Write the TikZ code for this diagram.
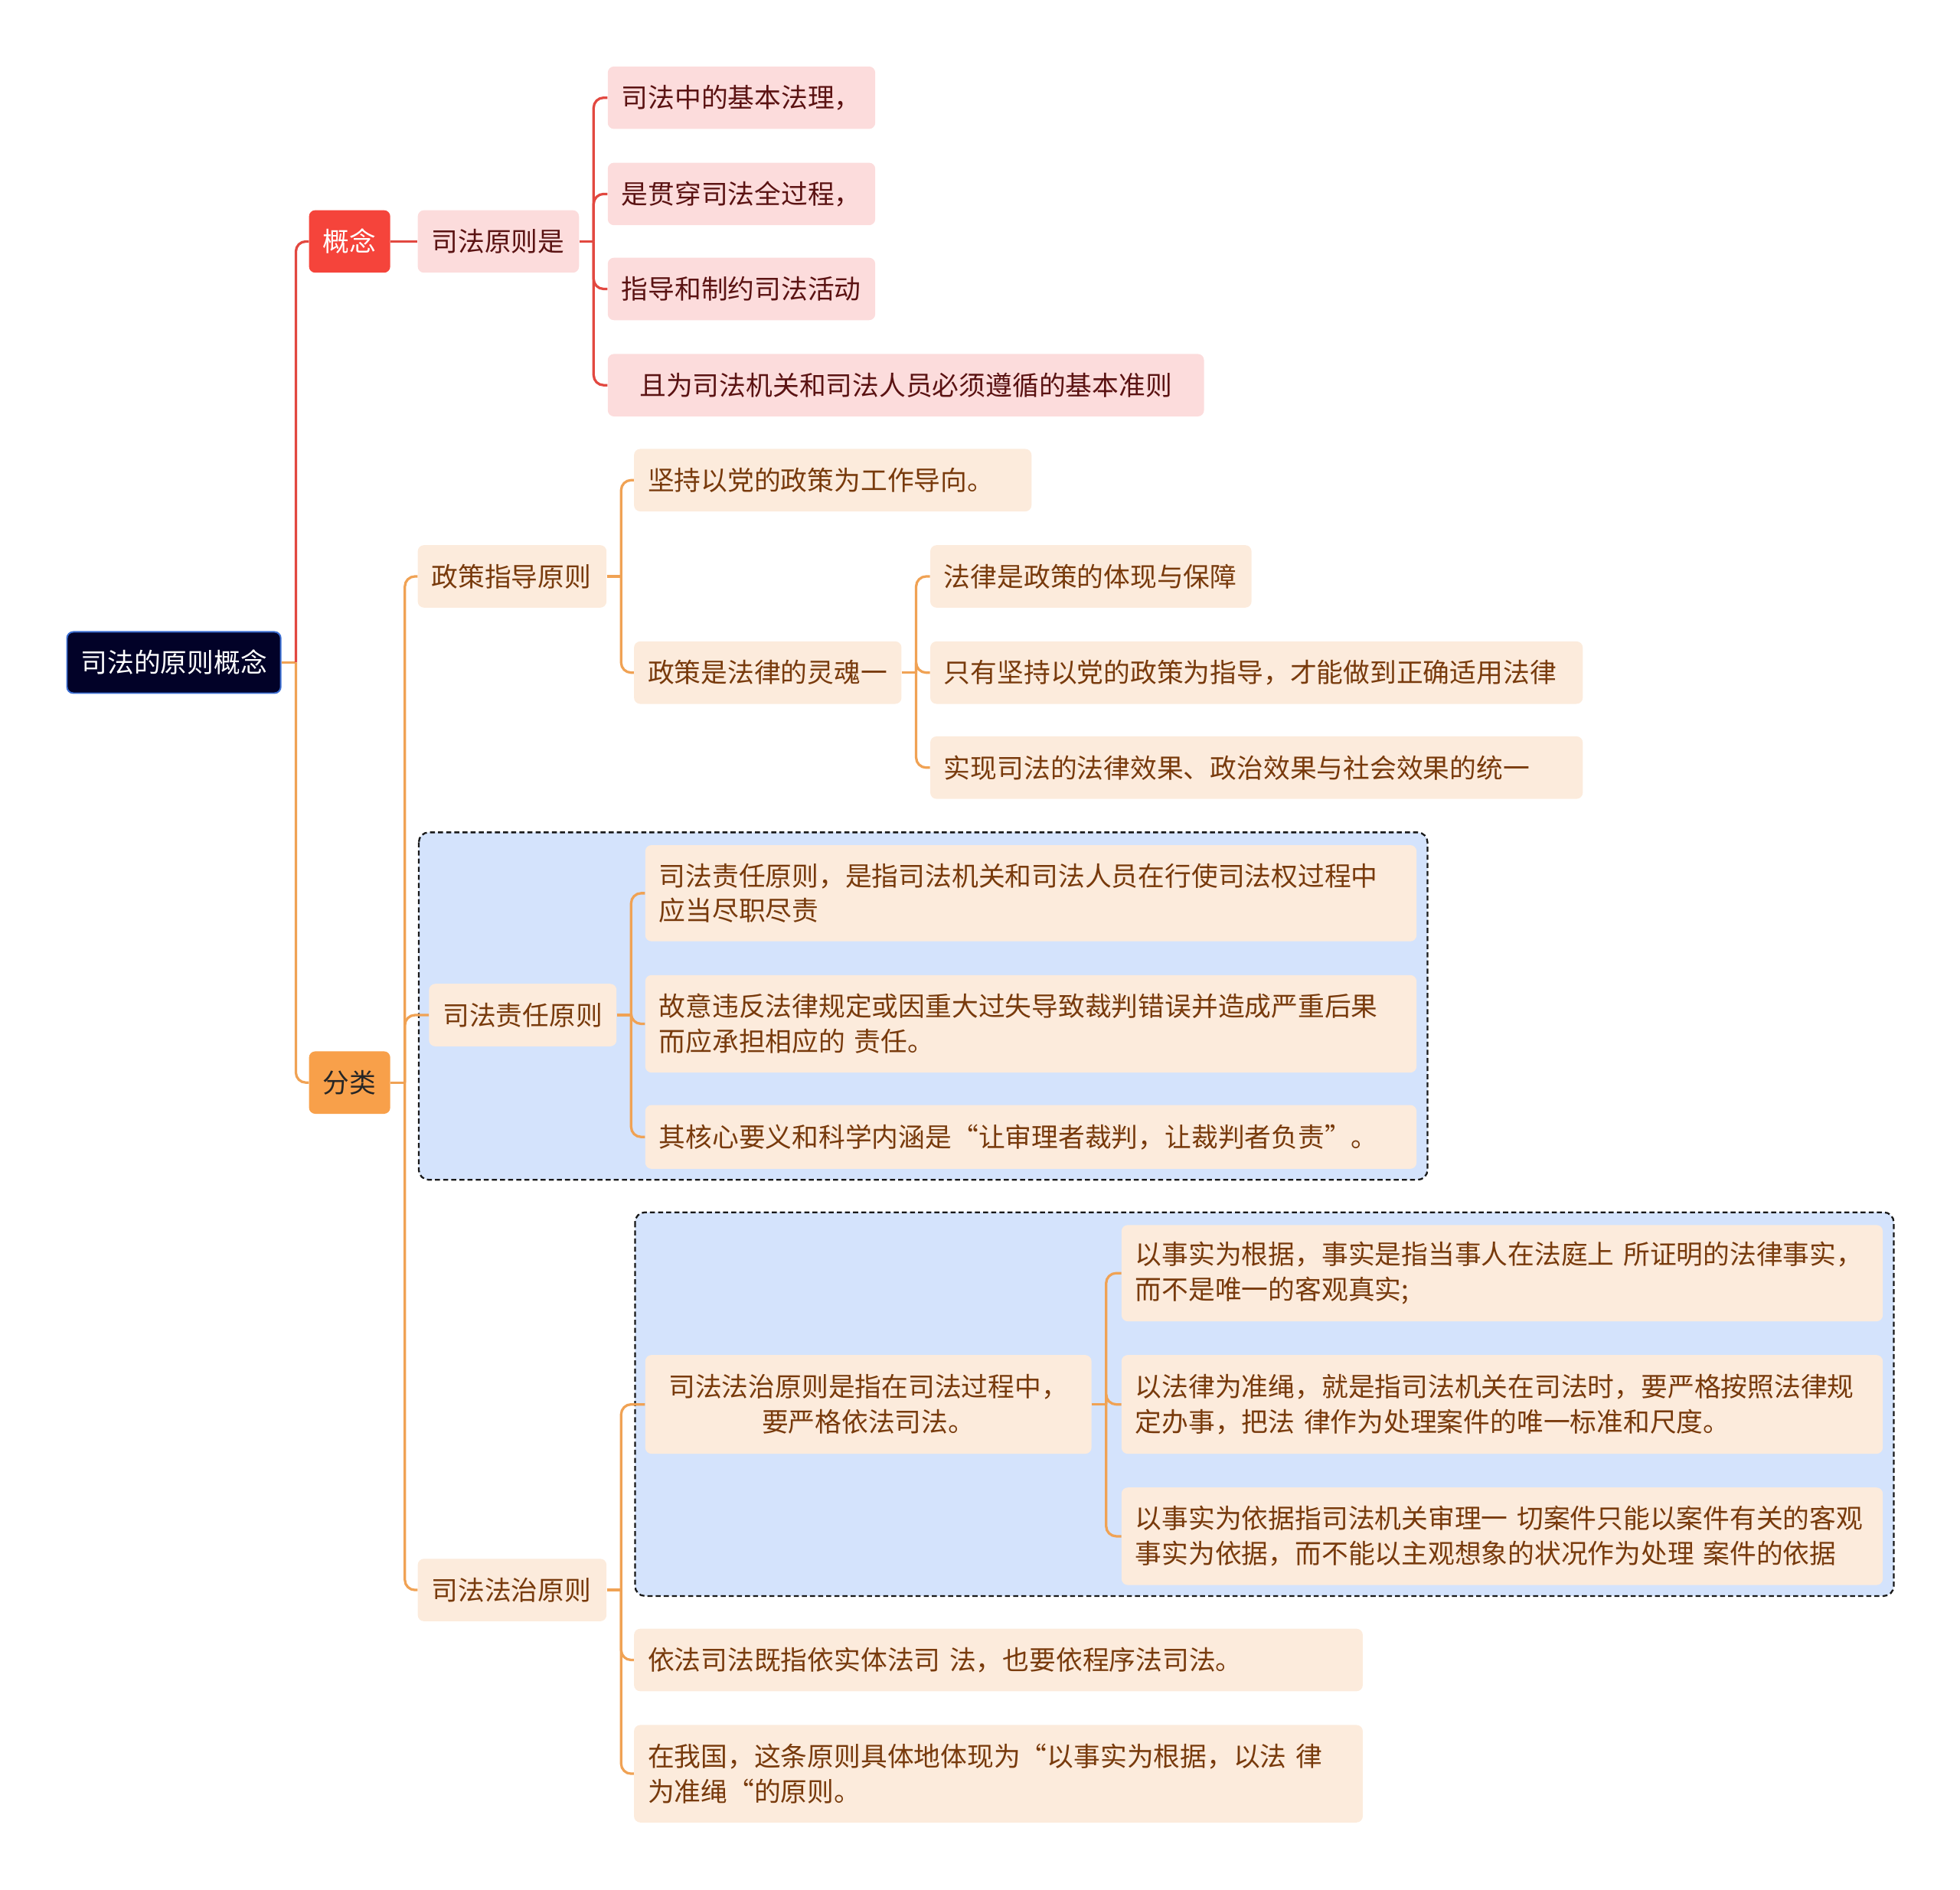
\documentclass[tikz,border=0pt]{standalone}
\usepackage{fontspec}
\setmainfont{Noto Sans CJK SC}
\definecolor{rootnavy}{RGB}{2,2,40}
\definecolor{rootrim}{RGB}{60,110,210}
\definecolor{cred}{RGB}{245,68,59}
\definecolor{corange}{RGB}{248,160,74}
\definecolor{lred}{RGB}{226,72,64}
\definecolor{lorange}{RGB}{240,162,84}
\definecolor{pinkfill}{RGB}{252,220,220}
\definecolor{peachfill}{RGB}{252,235,220}
\definecolor{pinktext}{RGB}{90,18,18}
\definecolor{peachtext}{RGB}{120,58,12}
\definecolor{zonefill}{RGB}{212,227,252}
\tikzset{
  vbase/.style={anchor=north west,rounded corners=5pt,inner xsep=11pt,inner ysep=2pt,minimum height=50pt,font=\fontsize{21.3}{28}\selectfont},
  vroot/.style={vbase,fill=rootnavy,draw=rootrim,line width=1.2pt,text=white,align=center},
  vred/.style={vbase,fill=cred,text=white,align=center},
  vorg/.style={vbase,fill=corange,text=black!85,align=center},
  vpink/.style={vbase,fill=pinkfill,text=pinktext,align=left},
  vpeach/.style={vbase,fill=peachfill,text=peachtext,align=left},
  er/.style={draw=lred,line width=2pt,rounded corners=8pt},
  eo/.style={draw=lorange,line width=2pt,rounded corners=8pt},
  zone/.style={draw=black!90,fill=zonefill,line width=1.4pt,dash pattern=on 4pt off 2.5pt,rounded corners=8pt},
}
\begin{document}
\begin{tikzpicture}[x=1pt,y=-1pt]
\useasboundingbox (0,0) rectangle (1568,1512);
\draw[zone] (335,666) rectangle (1142,944);
\draw[zone] (508,970) rectangle (1515,1277);
\node[vroot,text width=149pt,minimum height=49pt] (root) at (53,505) {司法的原则概念};
\node[vred,text width=43pt] (gn) at (247,168) {概念};
\node[vorg,text width=43pt] (fl) at (247,841) {分类};
\node[vpink,text width=107pt] (sfyz) at (334,168) {司法原则是};
\node[vpink,text width=192pt] (c1) at (486,53) {司法中的基本法理，};
\node[vpink,text width=192pt] (c2) at (486,130) {是贯穿司法全过程，};
\node[vpink,text width=192pt] (c3) at (486,206) {指导和制约司法活动};
\node[vpink,text width=455pt,align=center] (c4) at (486,283) {且为司法机关和司法人员必须遵循的基本准则};
\node[vpeach,text width=129pt] (zc) at (334,436) {政策指导原则};
\node[vpeach,text width=296pt] (zc1) at (507,359) {坚持以党的政策为工作导向。};
\node[vpeach,text width=192pt] (zc2) at (507,513) {政策是法律的灵魂一};
\node[vpeach,text width=235pt] (zc21) at (744,436) {法律是政策的体现与保障};
\node[vpeach,text width=500pt] (zc22) at (744,513) {只有坚持以党的政策为指导，才能做到正确适用法律};
\node[vpeach,text width=500pt] (zc23) at (744,589) {实现司法的法律效果、政治效果与社会效果的统一};
\node[vpeach,text width=128pt] (zr) at (343,787) {司法责任原则};
\node[vpeach,text width=595pt,minimum height=77pt] (zr1) at (516,676) {司法责任原则，是指司法机关和司法人员在行使司法权过程中\\应当尽职尽责};
\node[vpeach,text width=595pt,minimum height=78pt] (zr2) at (516,780) {故意违反法律规定或因重大过失导致裁判错误并造成严重后果\\而应承担相应的 责任。};
\node[vpeach,text width=595pt,minimum height=51pt] (zr3) at (516,884) {其核心要义和科学内涵是“让审理者裁判，让裁判者负责”。};
\node[vpeach,text width=129pt] (fz) at (334,1247) {司法法治原则};
\node[vpeach,text width=335pt,minimum height=79pt,align=center] (fz1) at (516,1084) {司法法治原则是指在司法过程中，\\要严格依法司法。};
\node[vpeach,text width=587pt,minimum height=77pt] (fz11) at (897,980) {以事实为根据，事实是指当事人在法庭上 所证明的法律事实，\\而不是唯一的客观真实;};
\node[vpeach,text width=587pt,minimum height=79pt] (fz12) at (897,1084) {以法律为准绳，就是指司法机关在司法时，要严格按照法律规\\定办事，把法 律作为处理案件的唯一标准和尺度。};
\node[vpeach,text width=587pt,minimum height=78pt] (fz13) at (897,1190) {以事实为依据指司法机关审理一 切案件只能以案件有关的客观\\事实为依据，而不能以主观想象的状况作为处理 案件的依据};
\node[vpeach,text width=561pt] (fz2) at (507,1303) {依法司法既指依实体法司 法，也要依程序法司法。};
\node[vpeach,text width=561pt,minimum height=78pt] (fz3) at (507,1380) {在我国，这条原则具体地体现为“以事实为根据，以法 律\\为准绳“的原则。};
\draw[eo] (root.east) -- ++(11.5,0) coordinate (t0);
\draw[er] (t0) |- (gn.west);
\draw[eo] (t0) |- (fl.west);
\draw[er] (gn.east) -- (sfyz.west);
\draw[er] (sfyz.east) -- ++(11.5,0) coordinate (t1);
\draw[er] (t1) |- (c1.west);
\draw[er] (t1) |- (c2.west);
\draw[er] (t1) |- (c3.west);
\draw[er] (t1) |- (c4.west);
\draw[eo] (fl.east) -- ++(11.5,0) coordinate (t2);
\draw[eo] (t2) |- (zc.west);
\draw[eo] (t2) |- (zr.west);
\draw[eo] (t2) |- (fz.west);
\draw[eo] (zc.east) -- ++(11.5,0) coordinate (t3);
\draw[eo] (t3) |- (zc1.west);
\draw[eo] (t3) |- (zc2.west);
\draw[eo] (zc2.east) -- ++(11.5,0) coordinate (t4);
\draw[eo] (t4) |- (zc21.west);
\draw[eo] (t4) |- (zc22.west);
\draw[eo] (t4) |- (zc23.west);
\draw[eo] (zr.east) -- ++(11.5,0) coordinate (t5);
\draw[eo] (t5) |- (zr1.west);
\draw[eo] (t5) |- (zr2.west);
\draw[eo] (t5) |- (zr3.west);
\draw[eo] (fz.east) -- ++(11.5,0) coordinate (t6);
\draw[eo] (t6) |- (fz1.west);
\draw[eo] (t6) |- (fz2.west);
\draw[eo] (t6) |- (fz3.west);
\draw[eo] (fz1.east) -- ++(11.5,0) coordinate (t7);
\draw[eo] (t7) |- (fz11.west);
\draw[eo] (t7) |- (fz12.west);
\draw[eo] (t7) |- (fz13.west);
\end{tikzpicture}
\end{document}
